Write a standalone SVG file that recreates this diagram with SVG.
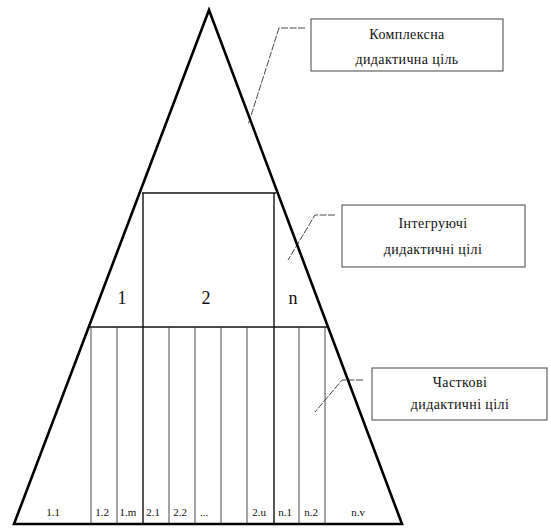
<svg xmlns="http://www.w3.org/2000/svg" width="551" height="528" viewBox="0 0 551 528">
<style>
.tri{fill:none;stroke:#000;stroke-width:2.6;stroke-linejoin:miter}
.rect{stroke:#111;stroke-width:1.4;fill:none}
.thin{stroke:#333;stroke-width:0.9}
.lead{fill:none;stroke:#333;stroke-width:0.9;stroke-dasharray:7 1.5}
.box{fill:#fff;stroke:#555;stroke-width:1.1}
text{font-family:"Liberation Serif","DejaVu Serif",serif;fill:#111;text-anchor:middle}
.lbl{font-size:14px;letter-spacing:0.4px}
.big{font-size:18px}
.sm{font-size:11px}
</style>
<rect width="551" height="528" fill="#fff"/>
<g id="connectors">
<polyline class="lead" points="305,28 279,28 248,125"/>
<polyline class="lead" points="335,215 315,215 288,260"/>
<polyline class="lead" points="363,380 342,380 315,412"/>
</g>
<g id="pyramid">
<line class="rect" x1="142" y1="193" x2="276" y2="193"/>
<line class="rect" x1="143" y1="193" x2="143" y2="524"/>
<line class="rect" x1="274" y1="193" x2="274" y2="524"/>
<line class="rect" x1="89" y1="327" x2="329" y2="327"/>
<g class="thin">
<line x1="91" y1="327" x2="91" y2="524"/>
<line x1="117" y1="327" x2="117" y2="524"/>
<line x1="169" y1="327" x2="169" y2="524"/>
<line x1="195" y1="327" x2="195" y2="524"/>
<line x1="221" y1="327" x2="221" y2="524"/>
<line x1="247" y1="327" x2="247" y2="524"/>
<line x1="299" y1="327" x2="299" y2="524"/>
<line x1="325" y1="327" x2="325" y2="524"/>
</g>
<polygon class="tri" points="209,10 14,524 402,524"/>
<text class="big" x="122" y="304">1</text>
<text class="big" x="206" y="304">2</text>
<text class="big" x="293" y="304">n</text>
<text class="sm" x="53" y="516">1.1</text>
<text class="sm" x="102" y="516">1.2</text>
<text class="sm" x="128" y="516">1.m</text>
<text class="sm" x="153" y="516">2.1</text>
<text class="sm" x="180" y="516">2.2</text>
<text class="sm" x="204" y="516">...</text>
<text class="sm" x="259" y="516">2.u</text>
<text class="sm" x="285" y="516">n.1</text>
<text class="sm" x="311" y="516">n.2</text>
<text class="sm" x="358" y="516">n.v</text>
</g>
<g id="box-complex">
<rect class="box" x="311" y="19" width="192" height="52"/>
<text class="lbl" x="407" y="39">Комплексна</text>
<text class="lbl" x="407" y="64">дидактична ціль</text>
</g>
<g id="box-integr">
<rect class="box" x="342" y="205" width="183" height="62"/>
<text class="lbl" x="433" y="228">Інтегруючі</text>
<text class="lbl" x="433" y="254">дидактичні цілі</text>
</g>
<g id="box-partial">
<rect class="box" x="372" y="368" width="175" height="52"/>
<text class="lbl" x="460" y="387">Часткові</text>
<text class="lbl" x="460" y="409">дидактичні цілі</text>
</g>
</svg>
